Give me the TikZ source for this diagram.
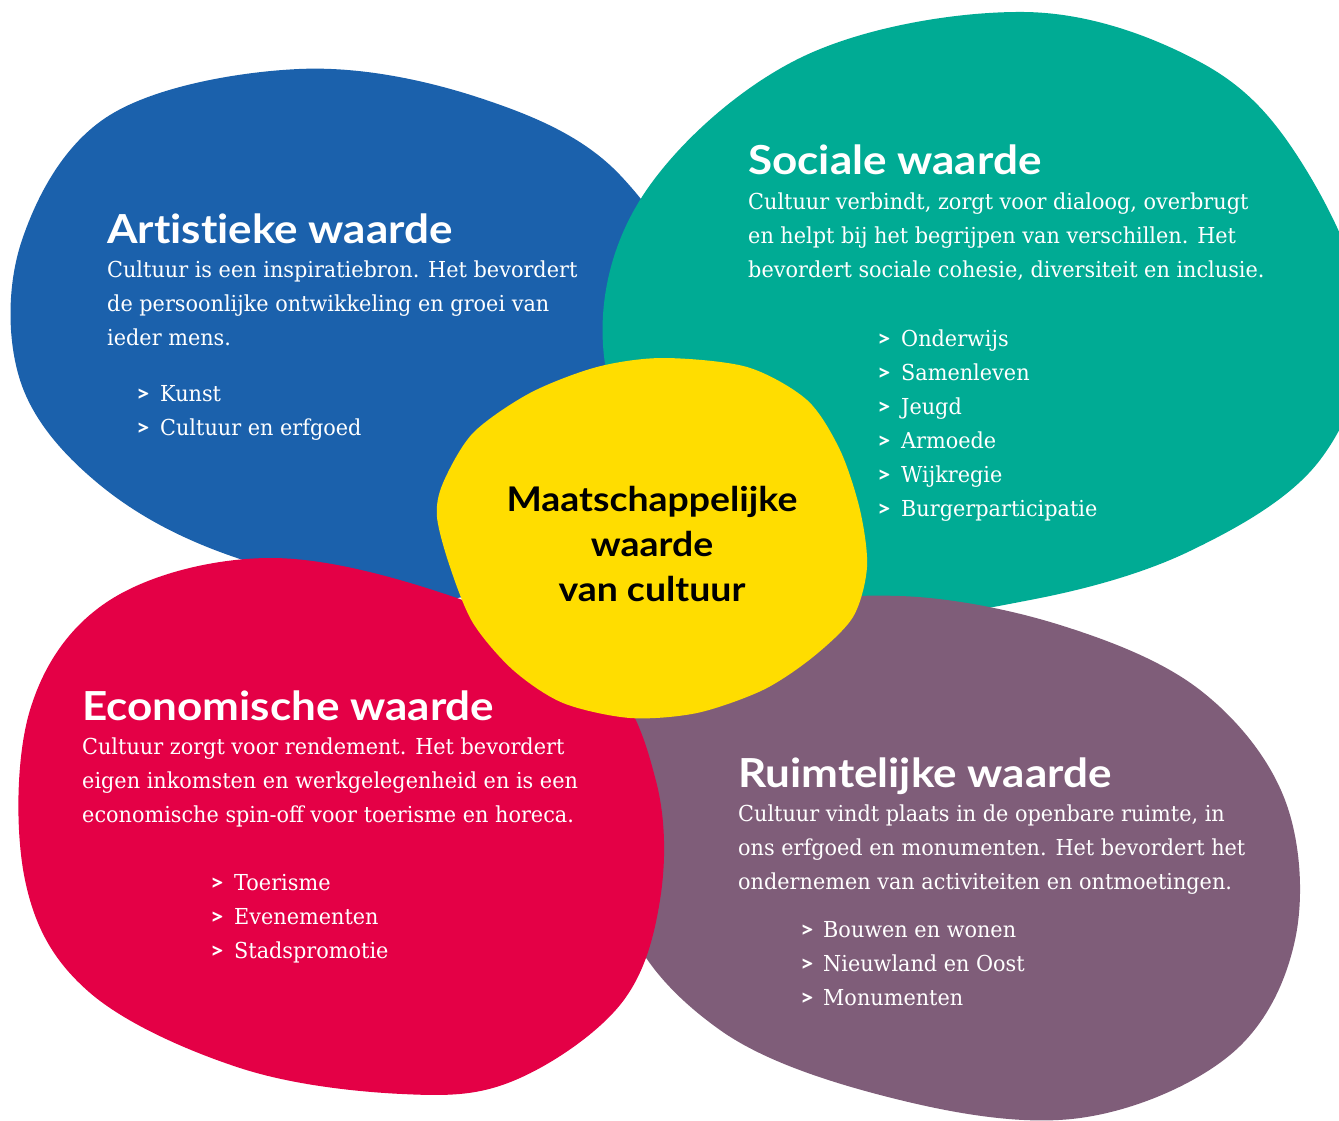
\documentclass[tikz,border=0pt]{standalone}
\usepackage{fontspec}
\setmainfont[FakeStretch=0.945]{DejaVu Serif}
\newfontfamily\headfont[FakeStretch=1.1, Ligatures=NoCommon]{Lato}

\definecolor{artblue}{HTML}{1B61AC}
\definecolor{socgreen}{HTML}{00AB94}
\definecolor{ecored}{HTML}{E40046}
\definecolor{ruimpurple}{HTML}{7F5D79}
\definecolor{coreyellow}{HTML}{FFDD00}

\tikzset{
  blob/.style={smooth cycle, tension=0.6},
  headline/.style={anchor=base west, inner sep=0pt, text=white, font=\headfont\bfseries\fontsize{40}{40}\selectfont},
  bodytext/.style={anchor=base west, inner sep=0pt, text=white, font=\fontsize{22}{34}\selectfont},
  chevron/.style={anchor=base west, inner sep=0pt, text=white, font=\headfont\bfseries\fontsize{22}{22}\selectfont},
  coretext/.style={anchor=base, inner sep=0pt, text=black, font=\headfont\bfseries\fontsize{34}{34}\selectfont},
}

\begin{document}
\begin{tikzpicture}[x=1pt, y=-1pt]
  \clip (0,0) rectangle (1339,1121);
  \fill[white] (0,0) rectangle (1339,1121);

  % blobs, back to front
  \fill[artblue] plot[blob] coordinates {(299,69) (480,98) (620,175) (700,330) (640,520) (440,600) (237,558) (100,485) (20,380) (22,240) (110,115)};
  \fill[socgreen] plot[blob] coordinates {(1024,12) (1200,62) (1300,160) (1365,320) (1320,460) (1190,551) (1030,600) (870,612) (700,540) (606,370) (640,200) (800,58)};
  \fill[ruimpurple] plot[blob] coordinates {(900,596) (1060,625) (1200,690) (1285,800) (1295,940) (1230,1055) (1080,1118) (900,1100) (720,1030) (620,900) (640,700) (760,615)};
  \fill[ecored] plot[blob] coordinates {(268,558) (451,596) (600,670) (656,781) (660,900) (620,1005) (513,1081) (402,1094) (240,1068) (89,992) (25,880) (30,710) (110,600)};
  \fill[coreyellow] plot[smooth cycle] coordinates {(663,358) (747,367) (807,400) (840,450) (860,510) (867,567) (853,617) (813,657) (763,690) (697,713) (630,718) (563,703) (513,670) (473,623) (450,567) (437,517) (443,483) (473,433) (530,393) (597,367)};

  % Artistieke waarde
  \node[headline] (art) at (107,243) {Artistieke waarde};
  \foreach \t [count=\i] in {{Cultuur is een inspiratiebron. Het bevordert}, {de persoonlijke ontwikkeling en groei van}, {ieder mens.}}
    \node[bodytext] (art-\i) at (107,243+34*\i) {\t};
  \foreach \t [count=\i] in {{Kunst}, {Cultuur en erfgoed}} {
    \node[chevron] (artc-\i) at (136,367+34*\i) {>};
    \node[bodytext] (artb-\i) at (160,367+34*\i) {\t};
  }

  % Sociale waarde
  \node[headline] (soc) at (748,175) {Sociale waarde};
  \foreach \t [count=\i] in {{Cultuur verbindt, zorgt voor dialoog, overbrugt}, {en helpt bij het begrijpen van verschillen. Het}, {bevordert sociale cohesie, diversiteit en inclusie.}}
    \node[bodytext] (soc-\i) at (748,175+34*\i) {\t};
  \foreach \t [count=\i] in {{Onderwijs}, {Samenleven}, {Jeugd}, {Armoede}, {Wijkregie}, {Burgerparticipatie}} {
    \node[chevron] (socc-\i) at (877,312+34*\i) {>};
    \node[bodytext] (socb-\i) at (901,312+34*\i) {\t};
  }

  % Economische waarde
  \node[headline] (eco) at (82,720) {Economische waarde};
  \foreach \t [count=\i] in {{Cultuur zorgt voor rendement. Het bevordert}, {eigen inkomsten en werkgelegenheid en is een}, {economische spin-off voor toerisme en horeca.}}
    \node[bodytext] (eco-\i) at (82,720+34*\i) {\t};
  \foreach \t [count=\i] in {{Toerisme}, {Evenementen}, {Stadspromotie}} {
    \node[chevron] (ecoc-\i) at (210,856+34*\i) {>};
    \node[bodytext] (ecob-\i) at (234,856+34*\i) {\t};
  }

  % Ruimtelijke waarde
  \node[headline] (ruim) at (738,787) {Ruimtelijke waarde};
  \foreach \t [count=\i] in {{Cultuur vindt plaats in de openbare ruimte, in}, {ons erfgoed en monumenten. Het bevordert het}, {ondernemen van activiteiten en ontmoetingen.}}
    \node[bodytext] (ruim-\i) at (738,787+34*\i) {\t};
  \foreach \t [count=\i] in {{Bouwen en wonen}, {Nieuwland en Oost}, {Monumenten}} {
    \node[chevron] (ruimc-\i) at (800,903+34*\i) {>};
    \node[bodytext] (ruimb-\i) at (823,903+34*\i) {\t};
  }

  % centre
  \foreach \t [count=\i] in {{Maatschappelijke}, {waarde}, {van cultuur}}
    \node[coretext] (core-\i) at (652,466+45*\i) {\t};
\end{tikzpicture}
\end{document}
